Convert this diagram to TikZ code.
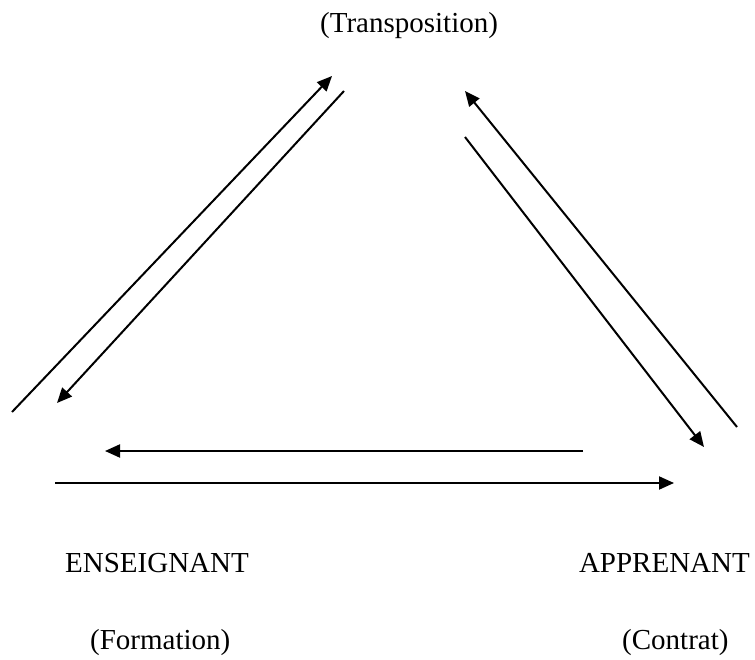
\documentclass[tikz,border=0pt]{standalone}
\usepackage{fontspec}
\setmainfont{Liberation Serif}
\usetikzlibrary{arrows.meta}
\tikzset{
  label/.style={inner sep=0pt, font=\fontsize{29}{35}\selectfont},
  link/.style={line width=2pt, -{Triangle[length=15pt,width=13pt]}},
}
\begin{document}
\begin{tikzpicture}[x=1pt, y=-1pt]
  \useasboundingbox (0,0) rectangle (755,660);
  % labels
  \node[label, anchor=base west] (trans) at (320,33) {(Transposition)};
  \node[label, anchor=base west] (ens) at (65,572) {ENSEIGNANT};
  \node[label, anchor=base east] (app) at (750,572) {APPRENANT};
  \node[label, anchor=base west] (form) at (90,649) {(Formation)};
  \node[label, anchor=base west] (contr) at (622,649) {(Contrat)};
  % arrow end points
  \coordinate (a1) at (12,412);  \coordinate (a2) at (332,76);
  \coordinate (b1) at (344,91);  \coordinate (b2) at (57,403);
  \coordinate (c1) at (737,427); \coordinate (c2) at (465,91);
  \coordinate (d1) at (465,137); \coordinate (d2) at (704,447);
  \coordinate (e1) at (583,451); \coordinate (e2) at (105,451);
  \coordinate (f1) at (55,483);  \coordinate (f2) at (674,483);
  % arrows
  \draw[link] (a1) -- (a2);
  \draw[link] (b1) -- (b2);
  \draw[link] (c1) -- (c2);
  \draw[link] (d1) -- (d2);
  \draw[link] (e1) -- (e2);
  \draw[link] (f1) -- (f2);
\end{tikzpicture}
\end{document}
